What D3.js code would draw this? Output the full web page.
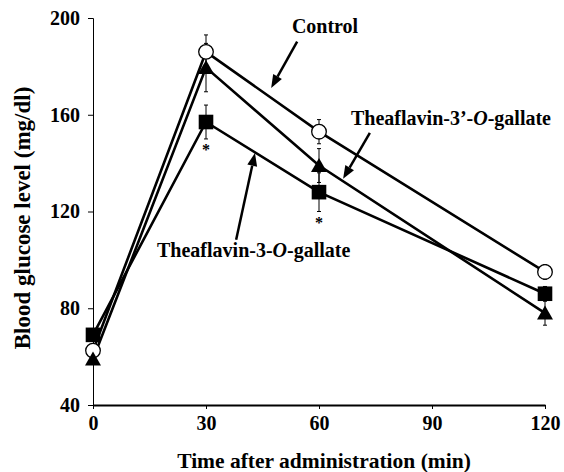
<!DOCTYPE html>
<html>
<head>
<meta charset="utf-8">
<script src="https://cdn.jsdelivr.net/npm/d3@7"></script>
<style>
  body { margin: 0; background: #fff; }
  text { font-family: "Liberation Serif", "Times New Roman", serif; font-weight: bold; fill: #000; }
</style>
</head>
<body>
<div id="chart"></div>
<script>
// data (min after administration, mg/dl)
const times = [0, 30, 60, 120];
const control = [62.5, 186, 153, 95];
const controlErr = [2, 7, 5, 3];
const tf3g = [69, 157, 128, 86];          // Theaflavin-3-O-gallate (squares)
const tf3gErr = [2, 7, 8, 3];
const tf3pg = [59, 179.5, 139, 78];       // Theaflavin-3'-O-gallate (triangles)
const tf3pgErr = [2, 10, 7, 5];
const xTicks = [0, 30, 60, 90, 120];
const yTicks = [40, 80, 120, 160, 200];
const starTimes = [30, 60];               // significant points (squares)

// constants
const width = 564;
const height = 472;

const x = d3.scaleLinear().domain([0, 120]).range([93, 545]);
const y = d3.scaleLinear().domain([40, 200]).range([405, 18]);

const svg = d3.select("#chart")
    .append("svg")
    .attr("width", width)
    .attr("height", height);

// axes
const yAxis = svg.append("g")
    .attr("transform", `translate(${x(0)},0)`)
    .call(d3.axisLeft(y).tickValues(yTicks).tickSize(5).tickPadding(8).tickFormat(d3.format("d")));
yAxis.select(".domain").attr("stroke-width", 1);
yAxis.selectAll("text").style("font-size", "20px");

const xAxis = svg.append("g")
    .attr("transform", `translate(0,${y(40)})`)
    .call(d3.axisBottom(x).tickValues(xTicks).tickSize(4).tickPadding(7).tickSizeOuter(0));
xAxis.select(".domain").attr("stroke-width", 2);
xAxis.selectAll("text").style("font-size", "20px");

// axis titles
svg.append("text")
    .attr("x", 324)
    .attr("y", 468)
    .attr("text-anchor", "middle")
    .style("font-size", "21.5px")
    .text("Time after administration (min)");

svg.append("text")
    .attr("transform", "translate(30,218) rotate(-90)")
    .attr("text-anchor", "middle")
    .style("font-size", "23px")
    .text("Blood glucose level (mg/dl)");

// series
const series = [
    { name: "control", values: control, err: controlErr, shape: "circle" },
    { name: "tf3pg", values: tf3pg, err: tf3pgErr, shape: "triangle" },
    { name: "tf3g", values: tf3g, err: tf3gErr, shape: "square" }
];

const line = d3.line()
    .x((d, i) => x(times[i]))
    .y(d => y(d));

// error bars first, behind lines and markers
series.forEach(s => {
    const g = svg.append("g").attr("class", "err-" + s.name);
    s.values.forEach((v, i) => {
        const cx = x(times[i]);
        const top = y(v + s.err[i]);
        const bot = y(v - s.err[i]);
        g.append("line").attr("x1", cx).attr("x2", cx).attr("y1", top).attr("y2", bot)
            .attr("stroke", "#000").attr("stroke-width", 1);
        g.append("line").attr("x1", cx - 2).attr("x2", cx + 2).attr("y1", top).attr("y2", top)
            .attr("stroke", "#000").attr("stroke-width", 1);
        g.append("line").attr("x1", cx - 2).attr("x2", cx + 2).attr("y1", bot).attr("y2", bot)
            .attr("stroke", "#000").attr("stroke-width", 1);
    });
});

series.forEach(s => {
    svg.append("path")
        .datum(s.values)
        .attr("d", line)
        .attr("fill", "none")
        .attr("stroke", "#000")
        .attr("stroke-width", 2.6);
});

// markers
series.forEach(s => {
    const g = svg.append("g").attr("class", "pts-" + s.name);
    s.values.forEach((v, i) => {
        const cx = x(times[i]);
        const cy = y(v);
        if (s.shape === "circle") {
            g.append("circle").attr("cx", cx).attr("cy", cy).attr("r", 7.3)
                .attr("fill", "#fff").attr("stroke", "#000").attr("stroke-width", 1.3);
        } else if (s.shape === "square") {
            g.append("rect").attr("x", cx - 7.3).attr("y", cy - 7.3).attr("width", 14.6).attr("height", 14.6)
                .attr("fill", "#000");
        } else {
            g.append("path")
                .attr("d", `M${cx},${cy - 7.5}L${cx + 8},${cy + 6.5}L${cx - 8},${cy + 6.5}Z`)
                .attr("fill", "#000");
        }
    });
});

// asterisks under Theaflavin-3-O-gallate points
starTimes.forEach(t => {
    const i = times.indexOf(t);
    svg.append("text")
        .attr("x", x(t))
        .attr("y", y(tf3g[i] - tf3gErr[i]) + 16)
        .attr("text-anchor", "middle")
        .style("font-size", "16px")
        .text("*");
});

// labels and arrows (data coordinates)
const labels = [
    { text: ["Control"], x: 52.8, y: 193.8 },
    { text: ["Theaflavin-3\u2019-", "O", "-gallate"], x: 68.5, y: 155.8 },
    { text: ["Theaflavin-3-", "O", "-gallate"], x: 17, y: 101.2 }
];
const arrows = [
    { from: [54.2, 190.2], to: [47.3, 171.1] },
    { from: [73.5, 152.5], to: [66.4, 133.5] },
    { from: [38, 108.3], to: [43, 144.2] }
];

labels.forEach(l => {
    const t = svg.append("text")
        .attr("x", x(l.x))
        .attr("y", y(l.y))
        .style("font-size", "20px");
    l.text.forEach(part => {
        t.append("tspan")
            .style("font-style", part === "O" ? "italic" : "normal")
            .text(part);
    });
});

arrows.forEach(a => {
    const x1 = x(a.from[0]), y1 = y(a.from[1]);
    const x2 = x(a.to[0]), y2 = y(a.to[1]);
    const ang = Math.atan2(y2 - y1, x2 - x1);
    const len = 13, half = 5;
    const bx = x2 - len * Math.cos(ang), by = y2 - len * Math.sin(ang);
    svg.append("line")
        .attr("x1", x1).attr("y1", y1).attr("x2", bx).attr("y2", by)
        .attr("stroke", "#000").attr("stroke-width", 2.5);
    svg.append("path")
        .attr("d", `M${x2},${y2}L${bx + half * Math.sin(ang)},${by - half * Math.cos(ang)}L${bx - half * Math.sin(ang)},${by + half * Math.cos(ang)}Z`)
        .attr("fill", "#000");
});
</script>
</body>
</html>
